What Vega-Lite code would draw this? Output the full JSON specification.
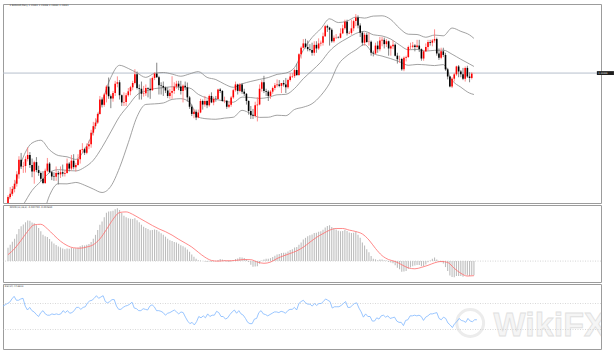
{
"$schema": "https://vega.github.io/schema/vega-lite/v6.json",
"background": "white",
"padding": {"left": 2, "top": 3, "right": 0, "bottom": 0},
"autosize": {"type": "pad"},
"spacing": 2,
"bounds": "flush",
"config": {
  "view": {"stroke": "#9c9c9c", "strokeWidth": 1},
  "axis": {"labelFont": "DejaVu Sans", "labelColor": "#555555", "labelFontSize": 2.3, "tickColor": "#888888", "tickSize": 1.5, "domain": false, "grid": false, "labelOverlap": false, "labelPadding": 1},
  "text": {"font": "DejaVu Sans"}
},
"datasets": {
"bars": [
{"i":0,"o":1.1008,"h":1.1090,"l":1.0990,"c":1.1078,"m":0.0045,"r":66},
{"i":1,"o":1.1078,"h":1.1147,"l":1.1065,"c":1.1100,"m":0.0055,"r":68},
{"i":2,"o":1.1100,"h":1.1154,"l":1.1085,"c":1.1134,"m":0.0065,"r":70},
{"i":3,"o":1.1134,"h":1.1197,"l":1.1110,"c":1.1170,"m":0.0075,"r":72},
{"i":4,"o":1.1170,"h":1.1257,"l":1.1150,"c":1.1235,"m":0.0090,"r":77},
{"i":5,"o":1.1235,"h":1.1361,"l":1.1205,"c":1.1336,"m":0.0108,"r":81},
{"i":6,"o":1.1336,"h":1.1384,"l":1.1272,"c":1.1290,"m":0.0117,"r":75},
{"i":7,"o":1.1290,"h":1.1322,"l":1.1245,"c":1.1293,"m":0.0123,"r":75},
{"i":8,"o":1.1293,"h":1.1360,"l":1.1247,"c":1.1341,"m":0.0130,"r":77},
{"i":9,"o":1.1341,"h":1.1422,"l":1.1325,"c":1.1370,"m":0.0136,"r":78},
{"i":10,"o":1.1370,"h":1.1390,"l":1.1280,"c":1.1300,"m":0.0135,"r":66},
{"i":11,"o":1.1300,"h":1.1345,"l":1.1215,"c":1.1255,"m":0.0129,"r":60},
{"i":12,"o":1.1255,"h":1.1330,"l":1.1170,"c":1.1320,"m":0.0127,"r":64},
{"i":13,"o":1.1320,"h":1.1355,"l":1.1250,"c":1.1265,"m":0.0120,"r":59},
{"i":14,"o":1.1265,"h":1.1295,"l":1.1225,"c":1.1245,"m":0.0111,"r":57},
{"i":15,"o":1.1245,"h":1.1255,"l":1.1185,"c":1.1205,"m":0.0100,"r":53},
{"i":16,"o":1.1205,"h":1.1257,"l":1.1167,"c":1.1175,"m":0.0088,"r":50},
{"i":17,"o":1.1175,"h":1.1275,"l":1.1168,"c":1.1260,"m":0.0083,"r":56},
{"i":18,"o":1.1260,"h":1.1349,"l":1.1250,"c":1.1310,"m":0.0081,"r":59},
{"i":19,"o":1.1310,"h":1.1320,"l":1.1245,"c":1.1250,"m":0.0074,"r":54},
{"i":20,"o":1.1250,"h":1.1260,"l":1.1195,"c":1.1220,"m":0.0066,"r":52},
{"i":21,"o":1.1222,"h":1.1250,"l":1.1190,"c":1.1219,"m":0.0059,"r":52},
{"i":22,"o":1.1219,"h":1.1290,"l":1.1190,"c":1.1245,"m":0.0054,"r":54},
{"i":23,"o":1.1245,"h":1.1260,"l":1.1165,"c":1.1235,"m":0.0049,"r":53},
{"i":24,"o":1.1235,"h":1.1290,"l":1.1210,"c":1.1250,"m":0.0046,"r":54},
{"i":25,"o":1.1250,"h":1.1303,"l":1.1220,"c":1.1240,"m":0.0042,"r":53},
{"i":26,"o":1.1240,"h":1.1265,"l":1.1220,"c":1.1245,"m":0.0040,"r":54},
{"i":27,"o":1.1245,"h":1.1345,"l":1.1240,"c":1.1310,"m":0.0042,"r":59},
{"i":28,"o":1.1310,"h":1.1320,"l":1.1255,"c":1.1275,"m":0.0041,"r":56},
{"i":29,"o":1.1275,"h":1.1370,"l":1.1262,"c":1.1330,"m":0.0044,"r":59},
{"i":30,"o":1.1330,"h":1.1375,"l":1.1270,"c":1.1285,"m":0.0043,"r":55},
{"i":31,"o":1.1285,"h":1.1315,"l":1.1255,"c":1.1300,"m":0.0043,"r":56},
{"i":32,"o":1.1300,"h":1.1375,"l":1.1295,"c":1.1340,"m":0.0045,"r":59},
{"i":33,"o":1.1340,"h":1.1410,"l":1.1310,"c":1.1405,"m":0.0050,"r":64},
{"i":34,"o":1.1405,"h":1.1452,"l":1.1385,"c":1.1410,"m":0.0053,"r":64},
{"i":35,"o":1.1410,"h":1.1420,"l":1.1370,"c":1.1385,"m":0.0052,"r":61},
{"i":36,"o":1.1385,"h":1.1450,"l":1.1375,"c":1.1430,"m":0.0055,"r":64},
{"i":37,"o":1.1430,"h":1.1470,"l":1.1410,"c":1.1445,"m":0.0057,"r":65},
{"i":38,"o":1.1445,"h":1.1545,"l":1.1420,"c":1.1525,"m":0.0064,"r":71},
{"i":39,"o":1.1525,"h":1.1600,"l":1.1505,"c":1.1570,"m":0.0075,"r":74},
{"i":40,"o":1.1570,"h":1.1625,"l":1.1550,"c":1.1595,"m":0.0088,"r":75},
{"i":41,"o":1.1595,"h":1.1665,"l":1.1585,"c":1.1655,"m":0.0104,"r":78},
{"i":42,"o":1.1655,"h":1.1780,"l":1.1650,"c":1.1755,"m":0.0122,"r":82},
{"i":43,"o":1.1755,"h":1.1770,"l":1.1700,"c":1.1718,"m":0.0133,"r":78},
{"i":44,"o":1.1718,"h":1.1800,"l":1.1705,"c":1.1790,"m":0.0147,"r":80},
{"i":45,"o":1.1790,"h":1.1855,"l":1.1735,"c":1.1845,"m":0.0162,"r":82},
{"i":46,"o":1.1845,"h":1.1908,"l":1.1760,"c":1.1778,"m":0.0166,"r":73},
{"i":47,"o":1.1778,"h":1.1790,"l":1.1695,"c":1.1762,"m":0.0167,"r":71},
{"i":48,"o":1.1762,"h":1.1815,"l":1.1740,"c":1.1800,"m":0.0169,"r":73},
{"i":49,"o":1.1800,"h":1.1885,"l":1.1780,"c":1.1865,"m":0.0174,"r":76},
{"i":50,"o":1.1865,"h":1.1916,"l":1.1840,"c":1.1875,"m":0.0177,"r":76},
{"i":51,"o":1.1875,"h":1.1890,"l":1.1755,"c":1.1785,"m":0.0171,"r":66},
{"i":52,"o":1.1785,"h":1.1790,"l":1.1710,"c":1.1735,"m":0.0161,"r":61},
{"i":53,"o":1.1735,"h":1.1805,"l":1.1710,"c":1.1738,"m":0.0152,"r":61},
{"i":54,"o":1.1738,"h":1.1800,"l":1.1710,"c":1.1785,"m":0.0147,"r":64},
{"i":55,"o":1.1785,"h":1.1835,"l":1.1775,"c":1.1812,"m":0.0144,"r":66},
{"i":56,"o":1.1812,"h":1.1850,"l":1.1785,"c":1.1840,"m":0.0142,"r":67},
{"i":57,"o":1.1840,"h":1.1885,"l":1.1820,"c":1.1870,"m":0.0141,"r":69},
{"i":58,"o":1.1870,"h":1.1966,"l":1.1860,"c":1.1930,"m":0.0144,"r":72},
{"i":59,"o":1.1930,"h":1.1950,"l":1.1825,"c":1.1835,"m":0.0137,"r":63},
{"i":60,"o":1.1835,"h":1.1860,"l":1.1755,"c":1.1830,"m":0.0130,"r":62},
{"i":61,"o":1.1830,"h":1.1880,"l":1.1755,"c":1.1795,"m":0.0122,"r":59},
{"i":62,"o":1.1795,"h":1.1850,"l":1.1775,"c":1.1798,"m":0.0115,"r":59},
{"i":63,"o":1.1798,"h":1.1860,"l":1.1780,"c":1.1835,"m":0.0111,"r":62},
{"i":64,"o":1.1835,"h":1.1840,"l":1.1770,"c":1.1830,"m":0.0108,"r":61},
{"i":65,"o":1.1830,"h":1.1902,"l":1.1760,"c":1.1820,"m":0.0103,"r":60},
{"i":66,"o":1.1820,"h":1.1915,"l":1.1815,"c":1.1905,"m":0.0104,"r":66},
{"i":67,"o":1.1905,"h":1.1945,"l":1.1890,"c":1.1935,"m":0.0106,"r":68},
{"i":68,"o":1.1935,"h":1.2011,"l":1.1905,"c":1.1910,"m":0.0104,"r":65},
{"i":69,"o":1.1910,"h":1.1920,"l":1.1790,"c":1.1855,"m":0.0099,"r":59},
{"i":70,"o":1.1855,"h":1.1875,"l":1.1790,"c":1.1850,"m":0.0093,"r":59},
{"i":71,"o":1.1850,"h":1.1880,"l":1.1780,"c":1.1838,"m":0.0088,"r":58},
{"i":72,"o":1.1838,"h":1.1845,"l":1.1800,"c":1.1818,"m":0.0082,"r":56},
{"i":73,"o":1.1818,"h":1.1840,"l":1.1765,"c":1.1780,"m":0.0075,"r":52},
{"i":74,"o":1.1780,"h":1.1830,"l":1.1760,"c":1.1803,"m":0.0070,"r":55},
{"i":75,"o":1.1803,"h":1.1917,"l":1.1760,"c":1.1815,"m":0.0067,"r":56},
{"i":76,"o":1.1815,"h":1.1875,"l":1.1795,"c":1.1845,"m":0.0064,"r":58},
{"i":77,"o":1.1845,"h":1.1885,"l":1.1830,"c":1.1865,"m":0.0062,"r":60},
{"i":78,"o":1.1865,"h":1.1885,"l":1.1820,"c":1.1845,"m":0.0058,"r":57},
{"i":79,"o":1.1845,"h":1.1885,"l":1.1790,"c":1.1815,"m":0.0053,"r":54},
{"i":80,"o":1.1815,"h":1.1860,"l":1.1735,"c":1.1850,"m":0.0050,"r":57},
{"i":81,"o":1.1850,"h":1.1880,"l":1.1820,"c":1.1840,"m":0.0046,"r":56},
{"i":82,"o":1.1840,"h":1.1873,"l":1.1740,"c":1.1770,"m":0.0039,"r":49},
{"i":83,"o":1.1770,"h":1.1780,"l":1.1690,"c":1.1705,"m":0.0031,"r":43},
{"i":84,"o":1.1705,"h":1.1720,"l":1.1640,"c":1.1655,"m":0.0022,"r":39},
{"i":85,"o":1.1655,"h":1.1690,"l":1.1625,"c":1.1670,"m":0.0015,"r":41},
{"i":86,"o":1.1670,"h":1.1685,"l":1.1612,"c":1.1630,"m":0.0008,"r":37},
{"i":87,"o":1.1630,"h":1.1685,"l":1.1625,"c":1.1665,"m":0.0003,"r":42},
{"i":88,"o":1.1665,"h":1.1760,"l":1.1660,"c":1.1745,"m":0.0002,"r":50},
{"i":89,"o":1.1745,"h":1.1755,"l":1.1685,"c":1.1720,"m":0.0000,"r":48},
{"i":90,"o":1.1720,"h":1.1780,"l":1.1705,"c":1.1745,"m":-0.0001,"r":51},
{"i":91,"o":1.1745,"h":1.1755,"l":1.1695,"c":1.1715,"m":-0.0003,"r":48},
{"i":92,"o":1.1715,"h":1.1790,"l":1.1705,"c":1.1780,"m":-0.0001,"r":54},
{"i":93,"o":1.1780,"h":1.1805,"l":1.1730,"c":1.1735,"m":-0.0002,"r":50},
{"i":94,"o":1.1735,"h":1.1775,"l":1.1715,"c":1.1760,"m":-0.0001,"r":52},
{"i":95,"o":1.1760,"h":1.1780,"l":1.1740,"c":1.1758,"m":0.0000,"r":52},
{"i":96,"o":1.1758,"h":1.1830,"l":1.1755,"c":1.1825,"m":0.0004,"r":58},
{"i":97,"o":1.1825,"h":1.1835,"l":1.1800,"c":1.1815,"m":0.0007,"r":56},
{"i":98,"o":1.1815,"h":1.1820,"l":1.1740,"c":1.1745,"m":0.0005,"r":50},
{"i":99,"o":1.1745,"h":1.1775,"l":1.1730,"c":1.1747,"m":0.0003,"r":50},
{"i":100,"o":1.1747,"h":1.1750,"l":1.1690,"c":1.1705,"m":-0.0001,"r":46},
{"i":101,"o":1.1705,"h":1.1740,"l":1.1695,"c":1.1718,"m":-0.0003,"r":48},
{"i":102,"o":1.1718,"h":1.1780,"l":1.1705,"c":1.1770,"m":-0.0001,"r":53},
{"i":103,"o":1.1770,"h":1.1830,"l":1.1760,"c":1.1820,"m":0.0002,"r":57},
{"i":104,"o":1.1820,"h":1.1880,"l":1.1810,"c":1.1860,"m":0.0007,"r":60},
{"i":105,"o":1.1860,"h":1.1865,"l":1.1790,"c":1.1815,"m":0.0009,"r":55},
{"i":106,"o":1.1815,"h":1.1870,"l":1.1805,"c":1.1860,"m":0.0013,"r":59},
{"i":107,"o":1.1860,"h":1.1870,"l":1.1795,"c":1.1810,"m":0.0012,"r":54},
{"i":108,"o":1.1810,"h":1.1830,"l":1.1780,"c":1.1795,"m":0.0010,"r":52},
{"i":109,"o":1.1795,"h":1.1800,"l":1.1720,"c":1.1745,"m":0.0005,"r":47},
{"i":110,"o":1.1745,"h":1.1750,"l":1.1650,"c":1.1675,"m":-0.0003,"r":41},
{"i":111,"o":1.1675,"h":1.1710,"l":1.1620,"c":1.1645,"m":-0.0012,"r":39},
{"i":112,"o":1.1645,"h":1.1690,"l":1.1620,"c":1.1640,"m":-0.0019,"r":39},
{"i":113,"o":1.1640,"h":1.1740,"l":1.1630,"c":1.1715,"m":-0.0018,"r":46},
{"i":114,"o":1.1715,"h":1.1770,"l":1.1603,"c":1.1720,"m":-0.0017,"r":47},
{"i":115,"o":1.1720,"h":1.1860,"l":1.1715,"c":1.1830,"m":-0.0009,"r":56},
{"i":116,"o":1.1830,"h":1.1890,"l":1.1810,"c":1.1875,"m":0.0002,"r":59},
{"i":117,"o":1.1875,"h":1.1920,"l":1.1800,"c":1.1815,"m":0.0005,"r":54},
{"i":118,"o":1.1815,"h":1.1830,"l":1.1780,"c":1.1810,"m":0.0008,"r":53},
{"i":119,"o":1.1810,"h":1.1820,"l":1.1745,"c":1.1780,"m":0.0008,"r":51},
{"i":120,"o":1.1780,"h":1.1820,"l":1.1760,"c":1.1810,"m":0.0010,"r":53},
{"i":121,"o":1.1810,"h":1.1845,"l":1.1795,"c":1.1835,"m":0.0014,"r":55},
{"i":122,"o":1.1835,"h":1.1870,"l":1.1820,"c":1.1855,"m":0.0018,"r":57},
{"i":123,"o":1.1855,"h":1.1895,"l":1.1840,"c":1.1860,"m":0.0022,"r":57},
{"i":124,"o":1.1860,"h":1.1890,"l":1.1840,"c":1.1850,"m":0.0024,"r":56},
{"i":125,"o":1.1850,"h":1.1870,"l":1.1800,"c":1.1870,"m":0.0027,"r":58},
{"i":126,"o":1.1870,"h":1.1890,"l":1.1845,"c":1.1860,"m":0.0028,"r":57},
{"i":127,"o":1.1860,"h":1.1905,"l":1.1800,"c":1.1840,"m":0.0028,"r":55},
{"i":128,"o":1.1840,"h":1.1900,"l":1.1830,"c":1.1890,"m":0.0032,"r":59},
{"i":129,"o":1.1890,"h":1.1940,"l":1.1880,"c":1.1915,"m":0.0037,"r":61},
{"i":130,"o":1.1915,"h":1.1940,"l":1.1905,"c":1.1918,"m":0.0040,"r":61},
{"i":131,"o":1.1918,"h":1.1970,"l":1.1905,"c":1.1960,"m":0.0046,"r":64},
{"i":132,"o":1.1960,"h":1.2005,"l":1.1920,"c":1.1925,"m":0.0047,"r":60},
{"i":133,"o":1.1925,"h":1.2077,"l":1.1920,"c":1.2070,"m":0.0055,"r":70},
{"i":134,"o":1.2070,"h":1.2125,"l":1.2040,"c":1.2115,"m":0.0062,"r":73},
{"i":135,"o":1.2115,"h":1.2175,"l":1.2110,"c":1.2145,"m":0.0072,"r":75},
{"i":136,"o":1.2145,"h":1.2177,"l":1.2110,"c":1.2120,"m":0.0078,"r":71},
{"i":137,"o":1.2120,"h":1.2165,"l":1.2090,"c":1.2105,"m":0.0083,"r":69},
{"i":138,"o":1.2105,"h":1.2140,"l":1.2090,"c":1.2100,"m":0.0087,"r":69},
{"i":139,"o":1.2100,"h":1.2150,"l":1.2060,"c":1.2080,"m":0.0089,"r":66},
{"i":140,"o":1.2080,"h":1.2160,"l":1.2060,"c":1.2135,"m":0.0094,"r":70},
{"i":141,"o":1.2135,"h":1.2160,"l":1.2080,"c":1.2110,"m":0.0095,"r":67},
{"i":142,"o":1.2110,"h":1.2180,"l":1.2100,"c":1.2145,"m":0.0098,"r":70},
{"i":143,"o":1.2145,"h":1.2165,"l":1.2125,"c":1.2150,"m":0.0100,"r":70},
{"i":144,"o":1.2150,"h":1.2220,"l":1.2130,"c":1.2195,"m":0.0105,"r":73},
{"i":145,"o":1.2195,"h":1.2273,"l":1.2190,"c":1.2265,"m":0.0113,"r":77},
{"i":146,"o":1.2265,"h":1.2275,"l":1.2225,"c":1.2255,"m":0.0118,"r":75},
{"i":147,"o":1.2255,"h":1.2260,"l":1.2130,"c":1.2240,"m":0.0120,"r":73},
{"i":148,"o":1.2240,"h":1.2250,"l":1.2150,"c":1.2160,"m":0.0114,"r":63},
{"i":149,"o":1.2160,"h":1.2200,"l":1.2150,"c":1.2185,"m":0.0110,"r":65},
{"i":150,"o":1.2185,"h":1.2210,"l":1.2175,"c":1.2187,"m":0.0106,"r":65},
{"i":151,"o":1.2187,"h":1.2195,"l":1.2180,"c":1.2184,"m":0.0102,"r":65},
{"i":152,"o":1.2184,"h":1.2250,"l":1.2180,"c":1.2215,"m":0.0100,"r":67},
{"i":153,"o":1.2215,"h":1.2275,"l":1.2210,"c":1.2250,"m":0.0101,"r":70},
{"i":154,"o":1.2250,"h":1.2310,"l":1.2240,"c":1.2295,"m":0.0105,"r":73},
{"i":155,"o":1.2295,"h":1.2310,"l":1.2200,"c":1.2215,"m":0.0101,"r":64},
{"i":156,"o":1.2215,"h":1.2230,"l":1.2210,"c":1.2218,"m":0.0096,"r":64},
{"i":157,"o":1.2218,"h":1.2310,"l":1.2205,"c":1.2250,"m":0.0094,"r":67},
{"i":158,"o":1.2250,"h":1.2310,"l":1.2230,"c":1.2300,"m":0.0095,"r":70},
{"i":159,"o":1.2300,"h":1.2349,"l":1.2265,"c":1.2325,"m":0.0098,"r":71},
{"i":160,"o":1.2325,"h":1.2340,"l":1.2250,"c":1.2270,"m":0.0088,"r":63},
{"i":161,"o":1.2270,"h":1.2285,"l":1.2190,"c":1.2220,"m":0.0078,"r":57},
{"i":162,"o":1.2220,"h":1.2230,"l":1.2130,"c":1.2150,"m":0.0062,"r":49},
{"i":163,"o":1.2150,"h":1.2220,"l":1.2130,"c":1.2205,"m":0.0052,"r":54},
{"i":164,"o":1.2205,"h":1.2220,"l":1.2150,"c":1.2155,"m":0.0040,"r":50},
{"i":165,"o":1.2155,"h":1.2220,"l":1.2130,"c":1.2157,"m":0.0030,"r":50},
{"i":166,"o":1.2157,"h":1.2165,"l":1.2060,"c":1.2080,"m":0.0017,"r":43},
{"i":167,"o":1.2080,"h":1.2095,"l":1.2055,"c":1.2075,"m":0.0008,"r":43},
{"i":168,"o":1.2075,"h":1.2150,"l":1.2070,"c":1.2130,"m":0.0006,"r":48},
{"i":169,"o":1.2130,"h":1.2160,"l":1.2080,"c":1.2105,"m":0.0003,"r":46},
{"i":170,"o":1.2105,"h":1.2190,"l":1.2090,"c":1.2165,"m":0.0005,"r":51},
{"i":171,"o":1.2165,"h":1.2190,"l":1.2125,"c":1.2170,"m":0.0005,"r":52},
{"i":172,"o":1.2170,"h":1.2185,"l":1.2110,"c":1.2140,"m":0.0003,"r":49},
{"i":173,"o":1.2140,"h":1.2175,"l":1.2120,"c":1.2160,"m":0.0002,"r":51},
{"i":174,"o":1.2160,"h":1.2165,"l":1.2060,"c":1.2110,"m":-0.0003,"r":47},
{"i":175,"o":1.2110,"h":1.2135,"l":1.2060,"c":1.2125,"m":-0.0005,"r":48},
{"i":176,"o":1.2125,"h":1.2165,"l":1.2105,"c":1.2135,"m":-0.0007,"r":49},
{"i":177,"o":1.2135,"h":1.2145,"l":1.2055,"c":1.2060,"m":-0.0014,"r":43},
{"i":178,"o":1.2060,"h":1.2080,"l":1.2005,"c":1.2035,"m":-0.0022,"r":41},
{"i":179,"o":1.2035,"h":1.2060,"l":1.2010,"c":1.2037,"m":-0.0027,"r":41},
{"i":180,"o":1.2037,"h":1.2045,"l":1.1955,"c":1.1965,"m":-0.0036,"r":36},
{"i":181,"o":1.1965,"h":1.2055,"l":1.1952,"c":1.2045,"m":-0.0035,"r":44},
{"i":182,"o":1.2045,"h":1.2060,"l":1.2020,"c":1.2050,"m":-0.0033,"r":45},
{"i":183,"o":1.2050,"h":1.2130,"l":1.2045,"c":1.2120,"m":-0.0026,"r":51},
{"i":184,"o":1.2120,"h":1.2150,"l":1.2105,"c":1.2122,"m":-0.0021,"r":51},
{"i":185,"o":1.2122,"h":1.2155,"l":1.2110,"c":1.2130,"m":-0.0017,"r":52},
{"i":186,"o":1.2130,"h":1.2140,"l":1.2090,"c":1.2120,"m":-0.0015,"r":51},
{"i":187,"o":1.2120,"h":1.2170,"l":1.2110,"c":1.2130,"m":-0.0013,"r":52},
{"i":188,"o":1.2130,"h":1.2170,"l":1.2085,"c":1.2105,"m":-0.0013,"r":50},
{"i":189,"o":1.2105,"h":1.2110,"l":1.2025,"c":1.2040,"m":-0.0017,"r":44},
{"i":190,"o":1.2040,"h":1.2100,"l":1.2025,"c":1.2090,"m":-0.0016,"r":49},
{"i":191,"o":1.2090,"h":1.2145,"l":1.2085,"c":1.2120,"m":-0.0011,"r":51},
{"i":192,"o":1.2120,"h":1.2170,"l":1.2095,"c":1.2155,"m":-0.0004,"r":54},
{"i":193,"o":1.2155,"h":1.2170,"l":1.2130,"c":1.2150,"m":0.0002,"r":54},
{"i":194,"o":1.2150,"h":1.2175,"l":1.2125,"c":1.2165,"m":0.0008,"r":55},
{"i":195,"o":1.2165,"h":1.2243,"l":1.2150,"c":1.2175,"m":0.0012,"r":56},
{"i":196,"o":1.2175,"h":1.2185,"l":1.2060,"c":1.2075,"m":0.0005,"r":47},
{"i":197,"o":1.2075,"h":1.2110,"l":1.2030,"c":1.2045,"m":-0.0002,"r":45},
{"i":198,"o":1.2045,"h":1.2115,"l":1.2035,"c":1.2090,"m":-0.0004,"r":49},
{"i":199,"o":1.2090,"h":1.2115,"l":1.2050,"c":1.2065,"m":-0.0008,"r":47},
{"i":200,"o":1.2065,"h":1.2080,"l":1.1955,"c":1.1965,"m":-0.0020,"r":40},
{"i":201,"o":1.1965,"h":1.1975,"l":1.1895,"c":1.1915,"m":-0.0033,"r":37},
{"i":202,"o":1.1915,"h":1.1920,"l":1.1840,"c":1.1845,"m":-0.0048,"r":33},
{"i":203,"o":1.1845,"h":1.1910,"l":1.1835,"c":1.1900,"m":-0.0053,"r":39},
{"i":204,"o":1.1900,"h":1.1940,"l":1.1880,"c":1.1930,"m":-0.0054,"r":42},
{"i":205,"o":1.1930,"h":1.1990,"l":1.1920,"c":1.1985,"m":-0.0050,"r":47},
{"i":206,"o":1.1985,"h":1.1995,"l":1.1910,"c":1.1950,"m":-0.0050,"r":44},
{"i":207,"o":1.1950,"h":1.1960,"l":1.1910,"c":1.1930,"m":-0.0050,"r":43},
{"i":208,"o":1.1930,"h":1.1975,"l":1.1890,"c":1.1900,"m":-0.0052,"r":41},
{"i":209,"o":1.1900,"h":1.1985,"l":1.1880,"c":1.1975,"m":-0.0046,"r":47},
{"i":210,"o":1.1975,"h":1.1990,"l":1.1905,"c":1.1915,"m":-0.0048,"r":43},
{"i":211,"o":1.1915,"h":1.1945,"l":1.1875,"c":1.1905,"m":-0.0050,"r":42},
{"i":212,"o":1.1905,"h":1.1945,"l":1.1895,"c":1.1935,"m":-0.0047,"r":45},
{"i":213,"o":1.1939,"h":1.1940,"l":1.1938,"c":1.1939,"m":-0.0047,"r":45}
],
"bb": [
{"i":0,"u":1.1052,"mid":1.0896,"lo":1.0740},
{"i":3,"u":1.1158,"mid":1.0930,"lo":1.0702},
{"i":7,"u":1.1356,"mid":1.1024,"lo":1.0692},
{"i":11,"u":1.1453,"mid":1.1123,"lo":1.0793},
{"i":15,"u":1.1472,"mid":1.1186,"lo":1.0900},
{"i":19,"u":1.1405,"mid":1.1247,"lo":1.1089},
{"i":23,"u":1.1366,"mid":1.1268,"lo":1.1170},
{"i":27,"u":1.1357,"mid":1.1263,"lo":1.1169},
{"i":31,"u":1.1339,"mid":1.1259,"lo":1.1179},
{"i":35,"u":1.1408,"mid":1.1284,"lo":1.1160},
{"i":39,"u":1.1533,"mid":1.1333,"lo":1.1133},
{"i":43,"u":1.1737,"mid":1.1423,"lo":1.1109},
{"i":47,"u":1.1908,"mid":1.1530,"lo":1.1152},
{"i":51,"u":1.1993,"mid":1.1637,"lo":1.1281},
{"i":55,"u":1.1971,"mid":1.1713,"lo":1.1455},
{"i":59,"u":1.1940,"mid":1.1788,"lo":1.1636},
{"i":63,"u":1.1909,"mid":1.1815,"lo":1.1721},
{"i":67,"u":1.1937,"mid":1.1831,"lo":1.1725},
{"i":71,"u":1.1943,"mid":1.1837,"lo":1.1731},
{"i":75,"u":1.1932,"mid":1.1844,"lo":1.1756},
{"i":79,"u":1.1917,"mid":1.1839,"lo":1.1761},
{"i":83,"u":1.1933,"mid":1.1835,"lo":1.1737},
{"i":87,"u":1.1949,"mid":1.1791,"lo":1.1633},
{"i":91,"u":1.1909,"mid":1.1765,"lo":1.1621},
{"i":95,"u":1.1894,"mid":1.1756,"lo":1.1618},
{"i":99,"u":1.1862,"mid":1.1744,"lo":1.1626},
{"i":103,"u":1.1840,"mid":1.1736,"lo":1.1632},
{"i":107,"u":1.1864,"mid":1.1772,"lo":1.1680},
{"i":111,"u":1.1881,"mid":1.1769,"lo":1.1657},
{"i":115,"u":1.1895,"mid":1.1763,"lo":1.1631},
{"i":119,"u":1.1908,"mid":1.1770,"lo":1.1632},
{"i":123,"u":1.1930,"mid":1.1788,"lo":1.1646},
{"i":127,"u":1.1939,"mid":1.1791,"lo":1.1643},
{"i":131,"u":1.1978,"mid":1.1832,"lo":1.1686},
{"i":135,"u":1.2098,"mid":1.1900,"lo":1.1702},
{"i":139,"u":1.2186,"mid":1.1956,"lo":1.1726},
{"i":143,"u":1.2247,"mid":1.2015,"lo":1.1783},
{"i":147,"u":1.2316,"mid":1.2092,"lo":1.1868},
{"i":151,"u":1.2290,"mid":1.2144,"lo":1.1998},
{"i":155,"u":1.2300,"mid":1.2180,"lo":1.2060},
{"i":159,"u":1.2328,"mid":1.2214,"lo":1.2100},
{"i":163,"u":1.2321,"mid":1.2229,"lo":1.2137},
{"i":167,"u":1.2335,"mid":1.2205,"lo":1.2075},
{"i":171,"u":1.2337,"mid":1.2197,"lo":1.2057},
{"i":175,"u":1.2311,"mid":1.2175,"lo":1.2039},
{"i":179,"u":1.2250,"mid":1.2134,"lo":1.2018},
{"i":183,"u":1.2209,"mid":1.2101,"lo":1.1993},
{"i":187,"u":1.2207,"mid":1.2103,"lo":1.1999},
{"i":191,"u":1.2188,"mid":1.2092,"lo":1.1996},
{"i":195,"u":1.2203,"mid":1.2097,"lo":1.1991},
{"i":199,"u":1.2198,"mid":1.2098,"lo":1.1998},
{"i":203,"u":1.2252,"mid":1.2070,"lo":1.1888},
{"i":207,"u":1.2229,"mid":1.2035,"lo":1.1841},
{"i":211,"u":1.2204,"mid":1.2002,"lo":1.1800},
{"i":213,"u":1.2180,"mid":1.1985,"lo":1.1790}
],
"sig": [
{"i":0,"s":0.00216},{"i":3,"s":0.00416},{"i":6,"s":0.00697},{"i":9,"s":0.00999},{"i":12,"s":0.01217},{"i":15,"s":0.01234},{"i":18,"s":0.01082},{"i":21,"s":0.00869},{"i":24,"s":0.00667},{"i":27,"s":0.00524},{"i":30,"s":0.00446},{"i":33,"s":0.00433},{"i":36,"s":0.00473},{"i":39,"s":0.00549},{"i":42,"s":0.00744},{"i":45,"s":0.01058},{"i":48,"s":0.01398},{"i":51,"s":0.01629},{"i":54,"s":0.01649},{"i":57,"s":0.01566},{"i":60,"s":0.01442},{"i":63,"s":0.01318},{"i":66,"s":0.01193},{"i":69,"s":0.0108},{"i":72,"s":0.00986},{"i":75,"s":0.00871},{"i":78,"s":0.00732},{"i":81,"s":0.00606},{"i":84,"s":0.00472},{"i":87,"s":0.00297},{"i":90,"s":0.00132},{"i":93,"s":0.00023},{"i":96,"s":-0.00002},{"i":99,"s":0.00013},{"i":102,"s":0.00014},{"i":105,"s":0.00031},{"i":108,"s":0.00053},{"i":111,"s":0.00048},{"i":114,"s":-0.00032},{"i":117,"s":-0.00073},{"i":120,"s":-0.00033},{"i":123,"s":0.00087},{"i":126,"s":0.00177},{"i":129,"s":0.00256},{"i":132,"s":0.00343},{"i":135,"s":0.00466},{"i":138,"s":0.00633},{"i":141,"s":0.00794},{"i":144,"s":0.00921},{"i":147,"s":0.01036},{"i":150,"s":0.01093},{"i":153,"s":0.01093},{"i":156,"s":0.01039},{"i":159,"s":0.00991},{"i":162,"s":0.00908},{"i":165,"s":0.00708},{"i":168,"s":0.00423},{"i":171,"s":0.00184},{"i":174,"s":0.00051},{"i":177,"s":-0.00012},{"i":180,"s":-0.00121},{"i":183,"s":-0.00228},{"i":186,"s":-0.00258},{"i":189,"s":-0.00211},{"i":192,"s":-0.00141},{"i":195,"s":-0.00058},{"i":198,"s":-0.00011},{"i":201,"s":-0.00044},{"i":204,"s":-0.00241},{"i":207,"s":-0.00407},{"i":210,"s":-0.00501},{"i":213,"s":-0.00489}
]
},
"vconcat": [
{
"width": 598, "height": 199,
"layer": [
{"data": {"values": [{"p": 1.1939}]},
 "mark": {"type": "rule", "color": "#b6bfcc", "strokeWidth": 1},
 "encoding": {"y": {"field": "p", "type": "quantitative", "scale": {"domain": [1.1036, 1.2419], "nice": false, "zero": false},
   "axis": {"orient": "right", "title": null, "values": [1.241,1.2345,1.228,1.2215,1.215,1.2085,1.202,1.1955,1.189,1.1825,1.176,1.1695,1.163,1.1565,1.15,1.1435,1.137,1.1305,1.124,1.1175,1.111,1.1045], "format": ".5f"}}}},
{"data": {"name": "bb"}, "mark": {"type": "line", "color": "#8a8a8a", "strokeWidth": 0.8, "interpolate": "monotone", "clip": true},
 "encoding": {"x": {"field": "i", "type": "quantitative", "scale": {"domain": [0, 268.8], "nice": false, "zero": false}, "axis": null}, "y": {"field": "u", "type": "quantitative", "axis": null}}},
{"data": {"name": "bb"}, "mark": {"type": "line", "color": "#8a8a8a", "strokeWidth": 0.8, "interpolate": "monotone", "clip": true},
 "encoding": {"x": {"field": "i", "type": "quantitative", "axis": null}, "y": {"field": "mid", "type": "quantitative", "axis": null}}},
{"data": {"name": "bb"}, "mark": {"type": "line", "color": "#8a8a8a", "strokeWidth": 0.8, "interpolate": "monotone", "clip": true},
 "encoding": {"x": {"field": "i", "type": "quantitative", "axis": null}, "y": {"field": "lo", "type": "quantitative", "axis": null}}},
{"data": {"name": "bars"}, "mark": {"type": "rule", "strokeWidth": 0.8, "clip": true},
 "encoding": {"x": {"field": "i", "type": "quantitative", "axis": null}, "y": {"field": "l", "type": "quantitative", "axis": null}, "y2": {"field": "h"},
   "color": {"condition": {"test": "datum.c >= datum.o", "value": "#ff7070"}, "value": "#666666"}}},
{"data": {"name": "bars"}, "mark": {"type": "bar", "width": 1.6, "clip": true},
 "encoding": {"x": {"field": "i", "type": "quantitative", "axis": null}, "y": {"field": "o", "type": "quantitative", "axis": null}, "y2": {"field": "c"},
   "color": {"condition": {"test": "datum.c >= datum.o", "value": "#ff0000"}, "value": "#000000"}}},
{"data": {"values": [{"t": "▾ EURUSD,Daily  1.19391 1.19398 1.19382 1.19391"}]},
 "mark": {"type": "text", "align": "left", "baseline": "top", "fontSize": 2.3, "color": "#333333", "dy": 0.5},
 "encoding": {"x": {"datum": 0.8, "type": "quantitative", "axis": null}, "y": {"datum": 1.2419, "type": "quantitative", "axis": null}, "text": {"field": "t"}}},
{"data": {"values": [{"a": 269.2, "b": 277, "p0": 1.19255, "p1": 1.19525}]},
 "mark": {"type": "rect", "color": "#1e1e1e", "clip": false},
 "encoding": {"x": {"field": "a", "type": "quantitative", "axis": null}, "x2": {"field": "b"}, "y": {"field": "p0", "type": "quantitative", "axis": null}, "y2": {"field": "p1"}}},
{"data": {"values": [{"a": 269.4, "p": 1.1939, "t": "1.19391"}]},
 "mark": {"type": "text", "align": "left", "baseline": "middle", "fontSize": 2.3, "color": "#ffffff", "clip": false, "dx": 1},
 "encoding": {"x": {"field": "a", "type": "quantitative", "axis": null}, "y": {"field": "p", "type": "quantitative", "axis": null}, "text": {"field": "t"}}}
]
},
{
"width": 598, "height": 77,
"layer": [
{"data": {"values": [{"z": 0}]},
 "mark": {"type": "rule", "color": "#c4c4c4", "strokeWidth": 0.7, "strokeDash": [1, 1.5]},
 "encoding": {"y": {"field": "z", "type": "quantitative", "scale": {"domain": [-0.007, 0.0188], "nice": false, "zero": false},
   "axis": {"orient": "right", "title": null, "values": [0.0188, 0, -0.007], "labelExpr": "datum.value == 0 ? '0.00' : format(datum.value, '.6f')"}}}},
{"data": {"name": "bars"}, "mark": {"type": "bar", "width": 1.1, "color": "#bdbdbd", "clip": true},
 "encoding": {"x": {"field": "i", "type": "quantitative", "scale": {"domain": [0, 268.8], "nice": false, "zero": false}, "axis": null}, "y": {"field": "m", "type": "quantitative", "axis": null}, "y2": {"datum": 0}}},
{"data": {"name": "sig"}, "mark": {"type": "line", "color": "#ff6b6b", "strokeWidth": 0.8, "interpolate": "monotone", "clip": true},
 "encoding": {"x": {"field": "i", "type": "quantitative", "axis": null}, "y": {"field": "s", "type": "quantitative", "axis": null}}},
{"data": {"values": [{"t": "MACD(12,26,9) -0.004700 -0.004890"}]},
 "mark": {"type": "text", "align": "left", "baseline": "top", "fontSize": 2.3, "color": "#333333", "dy": 1},
 "encoding": {"x": {"datum": 0.8, "type": "quantitative", "axis": null}, "y": {"datum": 0.0188, "type": "quantitative", "axis": null}, "text": {"field": "t"}}}
]
},
{
"width": 598, "height": 65,
"layer": [
{"data": {"values": [{"t": "WikiFX"}]},
 "mark": {"type": "text", "align": "left", "baseline": "alphabetic", "fontSize": 34, "font": "Liberation Sans", "fontWeight": "bold", "fill": "#f5f5f5", "stroke": "#e0e0e0", "strokeWidth": 0.8, "clip": true},
 "encoding": {"x": {"datum": 220.5, "type": "quantitative", "scale": {"domain": [0, 268.8], "nice": false, "zero": false}, "axis": null}, "y": {"datum": 20, "type": "quantitative", "scale": {"domain": [0, 100], "nice": false, "zero": false}, "axis": null}, "text": {"field": "t"}}},
{"data": {"values": [{"k": 1}]},
 "mark": {"type": "point", "shape": "circle", "filled": false, "size": 720, "stroke": "#e4e4e4", "strokeWidth": 3, "clip": true},
 "encoding": {"x": {"datum": 210, "type": "quantitative", "axis": null}, "y": {"datum": 40, "type": "quantitative", "axis": null}}},
{"data": {"values": [{"v": 70}, {"v": 30}]},
 "mark": {"type": "rule", "color": "#c8c8c8", "strokeWidth": 0.7, "strokeDash": [1, 1.5]},
 "encoding": {"y": {"field": "v", "type": "quantitative", "axis": {"orient": "right", "title": null, "values": [100, 70, 30, 0]}}}},
{"data": {"name": "bars"}, "mark": {"type": "line", "color": "#80b8ff", "strokeWidth": 0.8, "clip": true},
 "encoding": {"x": {"field": "i", "type": "quantitative",
   "axis": {"orient": "bottom", "title": null, "values": [0,8,16,24,32,40,48,57,65,73,81,89,97,106,114,122,130,138,146,155,163,171,179,187,195,204,212], "labelAlign": "left", "labelBound": false, "labelFlush": false, "tickSize": 1.5, "labelPadding": 0.5,
     "labelExpr": "['28 May 2020','9 Jun 2020','19 Jun 2020','1 Jul 2020','13 Jul 2020','23 Jul 2020','4 Aug 2020','17 Aug 2020','27 Aug 2020','8 Sep 2020','18 Sep 2020','30 Sep 2020','12 Oct 2020','23 Oct 2020','4 Nov 2020','16 Nov 2020','26 Nov 2020','8 Dec 2020','18 Dec 2020','31 Dec 2020','12 Jan 2021','22 Jan 2021','3 Feb 2021','15 Feb 2021','25 Feb 2021','10 Mar 2021','22 Mar 2021'][indexof([0,8,16,24,32,40,48,57,65,73,81,89,97,106,114,122,130,138,146,155,163,171,179,187,195,204,212], datum.value)]"}},
   "y": {"field": "r", "type": "quantitative", "axis": null}}},
{"data": {"values": [{"t": "RSI(14) 44.8812"}]},
 "mark": {"type": "text", "align": "left", "baseline": "top", "fontSize": 2.3, "color": "#333333", "dy": 1},
 "encoding": {"x": {"datum": 0.8, "type": "quantitative", "axis": null}, "y": {"datum": 100, "type": "quantitative", "axis": null}, "text": {"field": "t"}}}
]
}
]
}
